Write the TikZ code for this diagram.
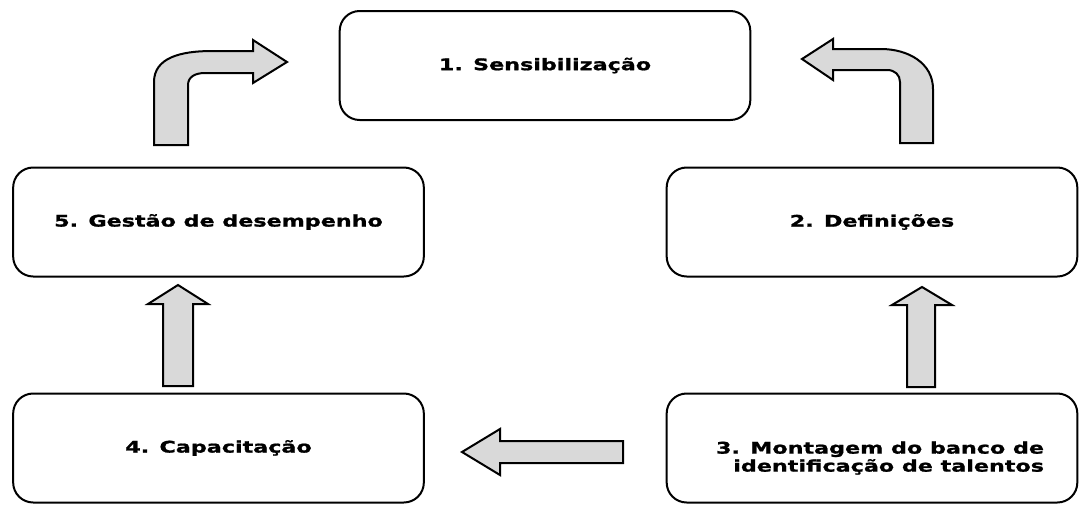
\documentclass[tikz,border=0pt]{standalone}
\usepackage{fontspec}
\newfontfamily\boxfont[FakeStretch=1.39,FakeBold=1.2]{DejaVu Sans}
\tikzset{
  stagebox/.style={draw=black, line width=1.5pt, rounded corners=15pt, fill=white,
    minimum width=308pt, minimum height=81.75pt, inner sep=0pt,
    font=\boxfont\bfseries\fontsize{12pt}{13.5pt}\selectfont},
  blockarrow/.style={draw=black, line width=1.5pt, fill=gray!30, line join=miter}
}
\begin{document}
\begin{tikzpicture}[x=0.75pt,y=-0.75pt]
\useasboundingbox (0,0) rectangle (1079,504);
% stages
\node[stagebox] (s1) at (545,65.5) {1. Sensibilização};
\node[stagebox] (s2) at (872,222) {2. Definições};
\node[stagebox] (s3) at (872,448) {\hspace*{12pt}\raisebox{-11.25pt}[0pt][0pt]{\begin{tabular}[c]{@{}r@{}}3. Montagem do banco de\\identificação de talentos\end{tabular}}};
\node[stagebox] (s4) at (218.5,448) {4. Capacitação};
\node[stagebox] (s5) at (218.5,222) {5. Gestão de desempenho};
% block arrows
% 3 -> 2 (up)
\draw[blockarrow] (907,387) -- (907,305) -- (892,305) -- (922,287) -- (952,305) -- (935,305) -- (935,387) -- cycle;
% 3 -> 4 (left)
\draw[blockarrow] (623,441) -- (500,441) -- (500,429) -- (462,452) -- (500,475) -- (500,463) -- (623,463) -- cycle;
% 4 -> 5 (up)
\draw[blockarrow] (163,386) -- (163,304) -- (148,304) -- (178,285) -- (208,304) -- (193,304) -- (193,386) -- cycle;
% 5 -> 1 (bent)
\draw[blockarrow] (154,145) -- (154,82) .. controls (154,58) and (180,51) .. (212,51) -- (253,51) -- (253,40) -- (287,62) -- (253,83) -- (253,73) -- (205,73) .. controls (195,73) and (188,77) .. (188,85) -- (188,145) -- cycle;
% 2 -> 1 (bent)
\draw[blockarrow] (933,143) -- (933,89) .. controls (933,63) and (908,49) .. (881,49) -- (833,49) -- (833,39) -- (802,59) -- (833,80) -- (833,70) -- (887,70) .. controls (895,70) and (900,75) .. (900,82) -- (900,143) -- cycle;
\end{tikzpicture}
\end{document}
